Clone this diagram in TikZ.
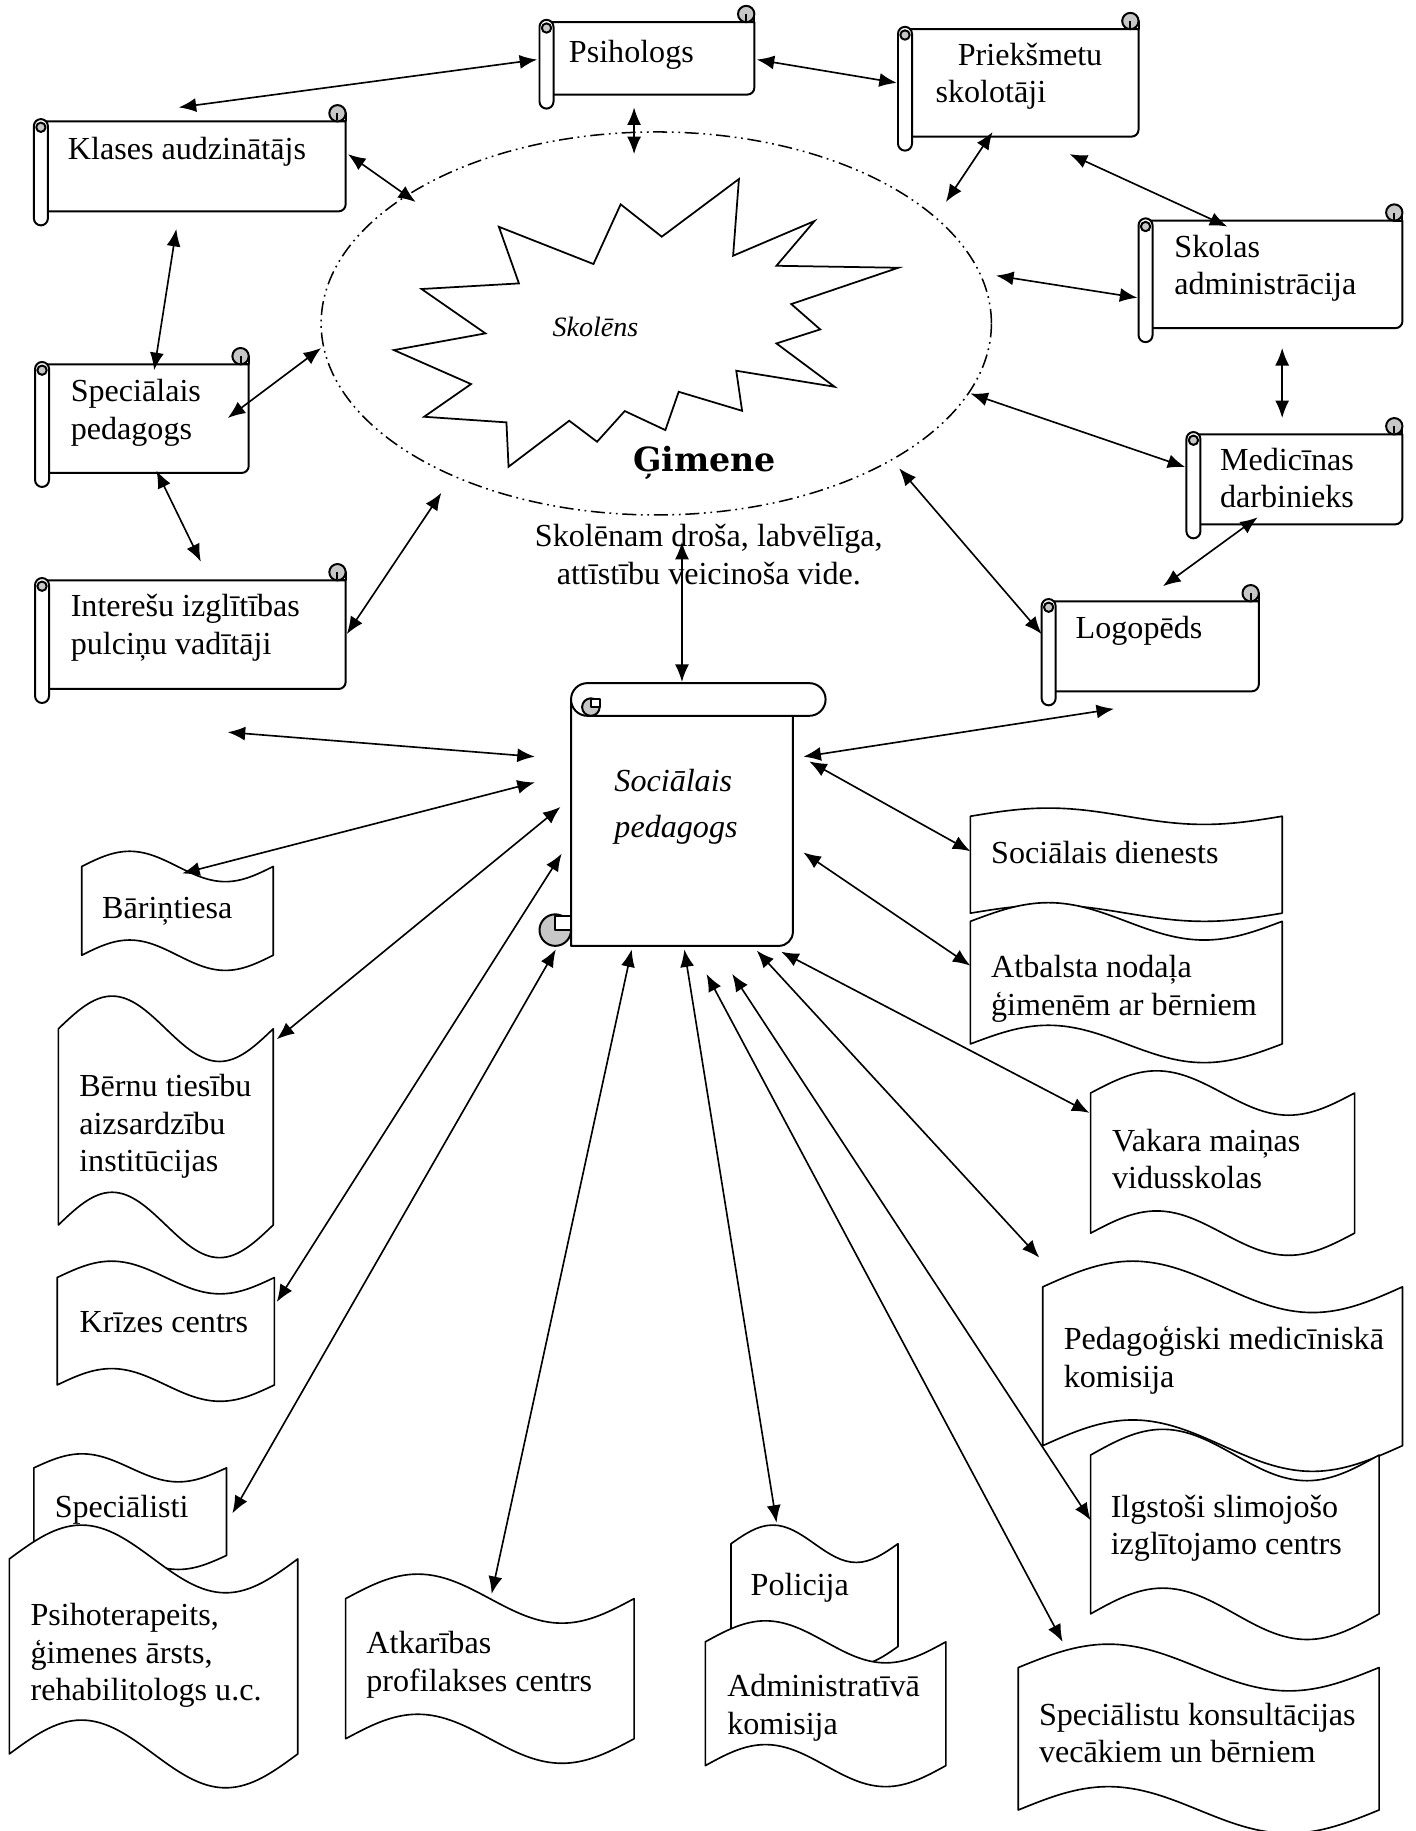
\documentclass[tikz,border=0pt]{standalone}
\usepackage{fontspec}
\setmainfont{Liberation Serif}
\newfontfamily\gimfont{DejaVu Serif}
\usepackage{tikz}
\usetikzlibrary{arrows.meta}

\colorlet{curlgray}{black!22}

% horizontal scroll: tube left x, top y, right x, bottom y
\newcommand{\hscroll}[4]{%
  \draw[scrollline, fill=white] (#1+6,#2) -- (#3,#2) -- (#3,#4-6) arc (0:90:6) -- (#1+6,#4) -- cycle;
  \draw[scrollline, fill=white] (#3-7,#2) -- (#3-7,#2-7) -- (#3,#2-7) -- (#3,#2) -- cycle;
  \draw[scrollline, fill=curlgray] (#3-7,#2-7) circle (7);
  \draw[scrollline] (#3-7,#2-7) -- (#3-7,#2-1);
  \draw[scrollline, fill=white, rounded corners=6] (#1,#2-2) rectangle (#1+12,#4+12);
  \draw[scrollline, fill=curlgray] (#1+6,#2+5) circle (4);
}
% wavy document: left x, right x, top y, bottom y, amplitude
\newcommand{\wavedoc}[5]{%
  \draw[waveline] (#1,#3) sin ({#1+(#2-#1)/4},#3-#5) cos ({(#1+#2)/2},#3)
    sin ({#1+3*(#2-#1)/4},#3+#5) cos (#2,#3) -- (#2,#4)
    sin ({#1+3*(#2-#1)/4},#4+#5) cos ({(#1+#2)/2},#4)
    sin ({#1+(#2-#1)/4},#4-#5) cos (#1,#4) -- cycle;
}

\begin{document}
\begin{tikzpicture}[
    x=1pt, y=-1pt,
    >={Latex[length=15pt,width=12pt]},
    lbl/.style={font=\fontsize{27.5}{32}\selectfont, inner sep=0pt, anchor=north west, align=left},
    link/.style={<->, line width=1.4pt},
    scrollline/.style={line width=1.7pt, line join=round},
    waveline/.style={line width=1.4pt, fill=white, line join=round},
    ellipseline/.style={line width=1.3pt, dash pattern=on 12pt off 4pt on 1.5pt off 4pt on 1.5pt off 4pt},
    starline/.style={line width=1.5pt, line join=miter}
]
\useasboundingbox (0,0) rectangle (1212,1568);

% === Family ellipse and pupil star ===
\draw[ellipseline] (562,277) ellipse (287 and 164);
\draw[starline] (427.2,194.2) -- (508.2,226.1) -- (531.5,175) -- (566.7,202.7) -- (632.8,153.3)
  -- (627.8,219) -- (697.5,189.3) -- (664.9,227.6) -- (769.3,229.3) -- (677.6,260.4)
  -- (702.4,282.1) -- (664.9,294.1) -- (714.7,331.2) -- (630.5,317.5) -- (635.5,351.8)
  -- (581.2,335.5) -- (569.8,368.3) -- (535,352) -- (511.3,378.3) -- (487.5,360.3)
  -- (435.5,399.7) -- (433.7,361.7) -- (363.2,356.9) -- (403.4,328.9) -- (337.3,299.8)
  -- (415.7,285.5) -- (361,247.5) -- (444.4,242.7) -- cycle;
\node[font=\fontsize{24}{28}\selectfont\itshape, inner sep=0pt, anchor=base west] (skolens) at (473,288) {Skolēns};
\node[font=\fontsize{28.5}{32}\selectfont\gimfont\bfseries, inner sep=0pt, anchor=base west] (gimene) at (542,404) {Ģimene};
\node[lbl, anchor=north, align=center] (vide) at (607,445.6) {\strut Skolēnam droša, labvēlīga,\\attīstību veicinoša vide.};

% === Scrolls round the family ===
\hscroll{462}{19}{646}{81}
\hscroll{769}{25}{975}{117}
\hscroll{29}{104}{296}{181}
\hscroll{975}{189}{1201}{281}
\hscroll{30}{312}{213}{405}
\hscroll{30}{497}{296}{590}
\hscroll{1016}{372}{1201}{449}
\hscroll{892}{515}{1078}{592}

\node[lbl] (psih) at (487,30.6) {\strut Psihologs};
\node[lbl] (prieks) at (801,33.6) {\strut\hspace*{19pt}Priekšmetu\\skolotāji};
\node[lbl] (klases) at (58,114.1) {\strut Klases audzinātājs};
\node[lbl] (skolas) at (1005.5,197.6) {\strut Skolas\\administrācija};
\node[lbl] (specped) at (60.4,321.6) {\strut Speciālais\\pedagogs};
\node[lbl] (interesu) at (60.4,505.6) {\strut Interešu izglītības\\pulciņu vadītāji};
\node[lbl] (medic) at (1044.6,380.1) {\strut Medicīnas\\darbinieks};
\node[lbl] (logo) at (921,524.6) {\strut Logopēds};

% === Social pedagogue scroll ===
\draw[scrollline, fill=white] (489,600) -- (679,600) -- (679,798) arc (0:90:12) -- (489,810) -- cycle;
\draw[scrollline, fill=curlgray] (475.5,796.5) circle (13.5);
\draw[scrollline, fill=white] (475.5,796.5) -- (475.5,784) -- (489,784) -- (489,796.5) -- cycle;
\draw[scrollline, fill=white, rounded corners=14] (489,585) rectangle (707,613);
\draw[scrollline, fill=curlgray] (506,605.5) circle (7.5);
\draw[scrollline, fill=white] (506,605.5) -- (506,599) -- (513.5,599) -- (513.5,605.5) -- cycle;
\node[lbl, font=\fontsize{27.5}{39}\selectfont\itshape] (socped) at (526,650.7) {\strut Sociālais\\pedagogs};

% === Institutions ===
\wavedoc{70}{234}{742}{818}{13}
\wavedoc{50}{234}{881}{1049}{28}
\wavedoc{49}{235}{1094}{1186}{14}
\wavedoc{29}{194}{1257}{1332}{12}
\wavedoc{8}{255}{1335}{1502}{29}
\wavedoc{296}{543}{1369}{1489}{21}
\wavedoc{626}{769}{1322}{1410}{16}
\wavedoc{604}{810}{1406}{1512}{18}
\wavedoc{831}{1098}{699}{782}{7}
\wavedoc{831}{1098}{789}{894}{16}
\wavedoc{934}{1160}{936}{1056}{19}
\wavedoc{893}{1201}{1102}{1238}{22}
\wavedoc{934}{1181}{1246}{1382}{22}
\wavedoc{872}{1181}{1428}{1550}{20}

\node[lbl] (barin) at (87.3,763.6) {\strut Bāriņtiesa};
\node[lbl] (bernu) at (67.7,916.6) {\strut Bērnu tiesību\\aizsardzību\\institūcijas};
\node[lbl] (krizes) at (68,1118.2) {\strut Krīzes centrs};
\node[lbl] (specialisti) at (46.7,1276.6) {\strut Speciālisti};
\node[lbl] (psihoter) at (26,1369.6) {\strut Psihoterapeits,\\ģimenes ārsts,\\rehabilitologs u.c.};
\node[lbl] (atkaribas) at (313.6,1393.6) {\strut Atkarības\\profilakses centrs};
\node[lbl] (policija) at (642.7,1343.6) {\strut Policija};
\node[lbl] (admin) at (622.6,1430.6) {\strut Administratīvā\\komisija};
\node[lbl] (socdien) at (848.6,716.6) {\strut Sociālais dienests};
\node[lbl] (atbalsta) at (848.6,814.6) {\strut Atbalsta nodaļa\\ģimenēm ar bērniem};
\node[lbl] (vakara) at (952.2,963.6) {\strut Vakara maiņas\\vidusskolas};
\node[lbl] (pedmed) at (910.8,1133.4) {\strut Pedagoģiski medicīniskā\\komisija};
\node[lbl] (ilgstosi) at (951,1276.6) {\strut Ilgstoši slimojošo\\izglītojamo centrs};
\node[lbl] (konsult) at (889.6,1455.1) {\strut Speciālistu konsultācijas\\vecākiem un bērniem};

% === Arrow ends ===
\coordinate (kl-n) at (153,92);     \coordinate (ps-w) at (460,51);
\coordinate (ps-e) at (648,51);     \coordinate (pr-w) at (768,71);
\coordinate (ps-s) at (543,92);     \coordinate (el-n) at (543,132);
\coordinate (kl-e) at (298,132);    \coordinate (el-nw) at (356,173);
\coordinate (kl-s) at (151,196);    \coordinate (sp-n) at (132,317);
\coordinate (sp-e) at (195,358);    \coordinate (el-w) at (275,298);
\coordinate (sp-s) at (134,403);    \coordinate (in-n) at (172,481);
\coordinate (in-e) at (297,543);    \coordinate (el-sw) at (378,422);
\coordinate (pr-s) at (850,113);    \coordinate (el-ne) at (810,173);
\coordinate (pr-se) at (916,132);   \coordinate (sk-n) at (1051,194);
\coordinate (el-e) at (853,236);    \coordinate (sk-w) at (974,255);
\coordinate (sk-s) at (1098,298);   \coordinate (me-n) at (1098,358);
\coordinate (el-se) at (831,337);   \coordinate (me-w) at (1015,400);
\coordinate (me-s) at (1077,443);   \coordinate (lo-n) at (996,502);
\coordinate (el-s) at (770,401);    \coordinate (lo-w) at (892,543);
\coordinate (vide-s) at (584,464);  \coordinate (so-n) at (584,584);
\coordinate (so-e1) at (688,648);   \coordinate (lo-s) at (954,607);
\coordinate (so-e2) at (693,652);   \coordinate (sd-w) at (831,729);
\coordinate (so-e3) at (688,730);   \coordinate (at-w) at (831,827);
\coordinate (so-s7) at (669,815);   \coordinate (va-w) at (933,953);
\coordinate (so-s6) at (648,814);   \coordinate (pm-n) at (890,1077);
\coordinate (so-s5) at (627,834);   \coordinate (il-w) at (934,1302);
\coordinate (so-s4) at (605,834);   \coordinate (ko-n) at (910,1406);
\coordinate (so-s3) at (586,813);   \coordinate (po-n) at (665,1304);
\coordinate (so-s2) at (541,813);   \coordinate (ak-n) at (421,1365);
\coordinate (so-s1) at (476,813);   \coordinate (sc-e) at (199,1296);
\coordinate (so-w4) at (481,731);   \coordinate (kr-e) at (237,1115);
\coordinate (so-w3) at (480,691);   \coordinate (be-e) at (237,890);
\coordinate (so-w2) at (458,670);   \coordinate (ba-n) at (156,748);
\coordinate (so-w1) at (458,648);   \coordinate (free) at (195,627);

% === Arrows ===
\draw[link] (kl-n) -- (ps-w);
\draw[link] (ps-e) -- (pr-w);
\draw[link] (ps-s) -- (el-n);
\draw[link] (kl-e) -- (el-nw);
\draw[link] (kl-s) -- (sp-n);
\draw[link] (sp-e) -- (el-w);
\draw[link] (sp-s) -- (in-n);
\draw[link] (in-e) -- (el-sw);
\draw[link] (pr-s) -- (el-ne);
\draw[link] (pr-se) -- (sk-n);
\draw[link] (el-e) -- (sk-w);
\draw[link] (sk-s) -- (me-n);
\draw[link] (el-se) -- (me-w);
\draw[link] (me-s) -- (lo-n);
\draw[link] (el-s) -- (lo-w);
\draw[link] (vide-s) -- (so-n);
\draw[link] (so-e1) -- (lo-s);
\draw[link] (so-e2) -- (sd-w);
\draw[link] (so-e3) -- (at-w);
\draw[link] (so-s7) -- (va-w);
\draw[link] (so-s6) -- (pm-n);
\draw[link] (so-s5) -- (il-w);
\draw[link] (so-s4) -- (ko-n);
\draw[link] (so-s3) -- (po-n);
\draw[link] (so-s2) -- (ak-n);
\draw[link] (so-s1) -- (sc-e);
\draw[link] (so-w4) -- (kr-e);
\draw[link] (so-w3) -- (be-e);
\draw[link] (so-w2) -- (ba-n);
\draw[link] (so-w1) -- (free);

\end{tikzpicture}
\end{document}
